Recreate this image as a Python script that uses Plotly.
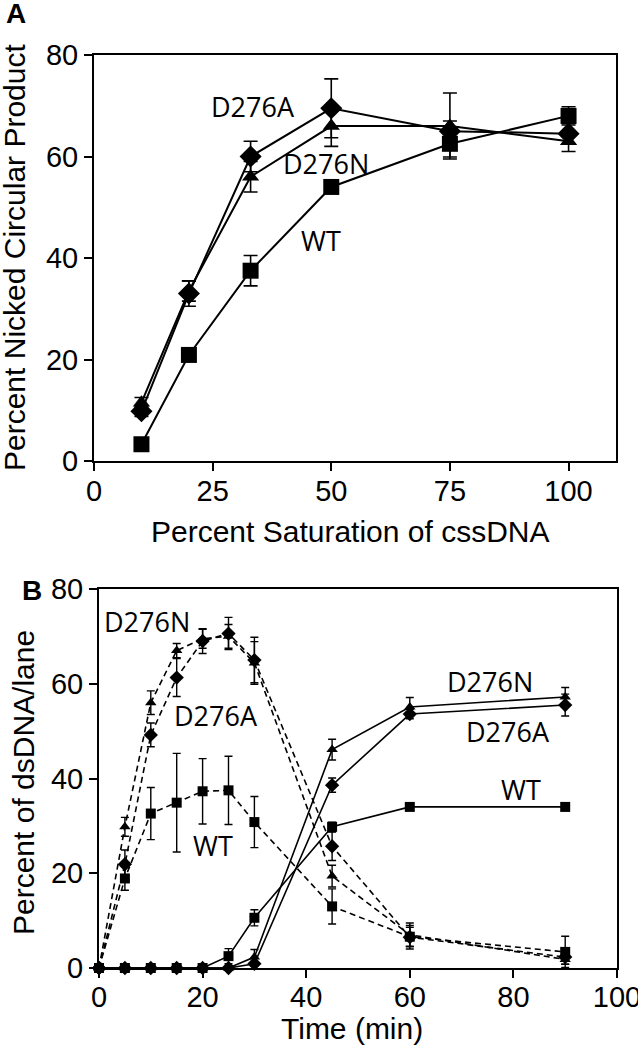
import plotly.graph_objects as go

# ---------------- Panel A data ----------------
sat_pct = [10, 20, 33, 50, 75, 100]
a_wt = [3.3, 20.9, 37.5, 54.0, 62.5, 68.0]
a_wt_err = [0.5, 0.8, 3.0, 0.8, 2.6, 1.8]
a_d276a = [9.8, 33.0, 60.0, 69.5, 65.0, 64.5]
a_d276a_err = [1.0, 2.5, 3.0, 5.8, 2.0, 2.0]
a_d276n = [11.5, 33.5, 56.0, 66.0, 66.0, 63.0]
a_d276n_err = [1.0, 2.0, 3.0, 4.0, 6.5, 2.0]

# ---------------- Panel B data ----------------
time_min = [0, 5, 10, 15, 20, 25, 30, 45, 60, 90]
# dashed (intermediate)
b_wt_d = [0, 18.9, 32.6, 34.9, 37.3, 37.5, 30.8, 13.0, 6.6, 3.4]
b_wt_d_err = [0, 2.5, 5.5, 10.4, 6.9, 7.2, 5.4, 3.7, 2.0, 3.3]
b_n_d = [0, 29.8, 56.0, 67.0, 69.5, 70.0, 64.4, 19.4, 7.0, 1.8]
b_n_d_err = [0, 2.0, 2.5, 1.5, 2.0, 2.5, 4.5, 2.3, 2.5, 1.0]
b_a_d = [0, 21.9, 49.2, 61.3, 69.0, 70.6, 65.0, 25.7, 6.5, 2.3]
b_a_d_err = [0, 3.0, 2.5, 4.0, 2.6, 3.4, 4.8, 3.0, 2.5, 1.5]
# solid (product)
b_wt_s = [0, 0, 0, 0, 0, 2.5, 10.6, 29.8, 34.0, 34.0]
b_wt_s_err = [0, 0, 0, 0, 0, 1.6, 1.7, 1.0, 0.5, 0.5]
b_n_s = [0, 0, 0, 0, 0, 0, 2.3, 46.1, 55.1, 57.2]
b_n_s_err = [0, 0, 0, 0, 0, 0, 1.6, 2.2, 2.0, 2.0]
b_a_s = [0, 0, 0, 0, 0, 0, 0.9, 38.6, 53.6, 55.5]
b_a_s_err = [0, 0, 0, 0, 0, 0, 0.5, 1.5, 1.0, 2.3]

W, H = 638, 1050


def px(x):
    return x / W


def py(y):
    return (H - y) / H


TICKFONT = dict(family="Liberation Sans, Arial, sans-serif", size=29, color="black")
TITLEFONT = dict(family="Liberation Sans, Arial, sans-serif", size=30, color="black")
LABFONT = dict(family="Open Sans, sans-serif", size=27, color="black")

fig = go.Figure()


def add(x, y, err, symbol, size, xa, ya, dash, lw, ew, cw):
    fig.add_trace(go.Scatter(
        x=x, y=y, mode="lines+markers",
        line=dict(color="black", width=lw, dash=dash),
        marker=dict(symbol=symbol, size=size, color="black"),
        error_y=dict(type="data", array=err, visible=True, color="black",
                     thickness=ew, width=cw),
        xaxis=xa, yaxis=ya, showlegend=False, cliponaxis=False))


# Panel A
add(sat_pct, a_d276n, a_d276n_err, "triangle-up", 15, "x", "y", "solid", 2, 1.6, 7)
add(sat_pct, a_d276a, a_d276a_err, "diamond", 17, "x", "y", "solid", 2, 1.6, 7)
add(sat_pct, a_wt, a_wt_err, "square", 16, "x", "y", "solid", 2, 1.6, 7)

# Panel B
DASH = "6px,4px"
add(time_min, b_n_d, b_n_d_err, "triangle-up", 10, "x2", "y2", DASH, 1.6, 1.4, 4)
add(time_min, b_a_d, b_a_d_err, "diamond", 11, "x2", "y2", DASH, 1.6, 1.4, 4)
add(time_min, b_wt_d, b_wt_d_err, "square", 10, "x2", "y2", DASH, 1.6, 1.4, 4)
add(time_min, b_n_s, b_n_s_err, "triangle-up", 10, "x2", "y2", "solid", 1.6, 1.4, 4)
add(time_min, b_a_s, b_a_s_err, "diamond", 11, "x2", "y2", "solid", 1.6, 1.4, 4)
add(time_min, b_wt_s, b_wt_s_err, "square", 10, "x2", "y2", "solid", 1.6, 1.4, 4)

ax_common = dict(showline=True, linecolor="black", linewidth=2, mirror=True,
                 ticks="outside", ticklen=8, tickwidth=2, tickcolor="black",
                 showgrid=False, zeroline=False, tickfont=TICKFONT, automargin=False,
                 ticklabeloverflow="allow")

fig.update_layout(
    width=W, height=H, margin=dict(l=0, r=0, t=0, b=0, autoexpand=False),
    paper_bgcolor="white", plot_bgcolor="white",
    xaxis=dict(domain=[px(94), px(616)], range=[0, 110], tickvals=[0, 25, 50, 75, 100],
               anchor="y", ticklabelstandoff=-5, **ax_common),
    yaxis=dict(domain=[py(461), py(55)], range=[0, 80],
               tickvals=[0, 20, 40, 60, 80], anchor="x", **ax_common),
    xaxis2=dict(domain=[px(99), px(617)], range=[0, 100],
                tickvals=[0, 20, 40, 60, 80, 100], anchor="y2", ticklabelstandoff=-6,
                **ax_common),
    yaxis2=dict(domain=[py(968), py(589)], range=[0, 80],
                tickvals=[0, 20, 40, 60, 80], anchor="x2", **ax_common),
)

ann = []


def A(text, x, y, xref, yref, font, angle=0):
    ann.append(dict(text=text, x=x, y=y, xref=xref, yref=yref, showarrow=False,
                    font=font, textangle=angle, xanchor="center", yanchor="middle"))


# series labels panel A
for txt, x, y in [("D276A", 33.5, 69.8), ("D276N", 48.9, 58.6), ("WT", 47.8, 43.4)]:
    A(txt, x, y, "x", "y", LABFONT)
# series labels panel B
for txt, x, y in [("D276N", 9.3, 73.1), ("D276A", 22.5, 53.4), ("WT", 22.0, 25.9),
                  ("D276N", 75.4, 60.4), ("D276A", 79.0, 49.9), ("WT", 81.5, 37.7)]:
    A(txt, x, y, "x2", "y2", LABFONT)

LETTER = dict(family="Liberation Sans, Arial", size=28, color="black")
A("<b>A</b>", px(16), py(14), "paper", "paper", LETTER)
A("<b>B</b>", px(32), py(590), "paper", "paper", LETTER)

A("Percent Saturation of cssDNA", px(350), py(531), "paper", "paper", TITLEFONT)
A("Time (min)", px(352), py(1028), "paper", "paper", TITLEFONT)
A("Percent Nicked Circular Product", px(15), py(258), "paper", "paper", TITLEFONT, -90)
A("Percent of dsDNA/lane", px(23), py(783), "paper", "paper", TITLEFONT, -90)

fig.update_layout(annotations=ann)
fig.write_html("out.html", post_script="document.body.style.margin='0px';",
               config={"displayModeBar": False})
